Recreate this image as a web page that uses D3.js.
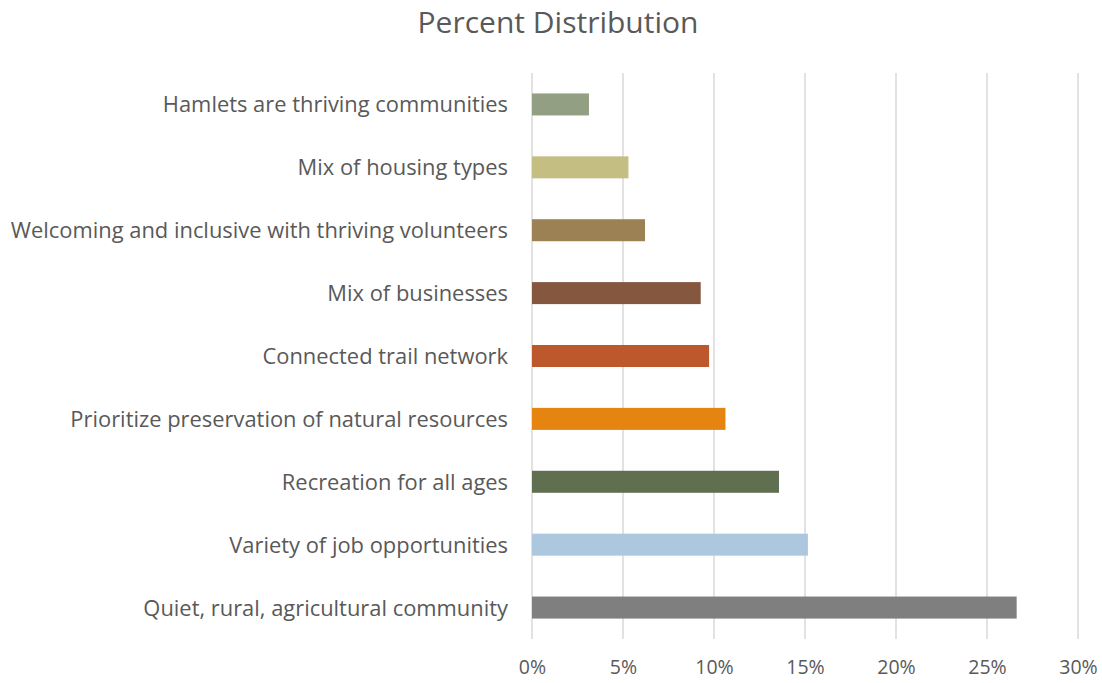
<!DOCTYPE html>
<html><head><meta charset="utf-8">
<script src="https://cdn.jsdelivr.net/npm/d3@7"></script>
<style>body{margin:0;background:#fff;} svg{display:block;}</style>
</head><body>
<svg id="c" width="1102" height="683"></svg>
<script>
const categories = [
  "Hamlets are thriving communities",
  "Mix of housing types",
  "Welcoming and inclusive with thriving volunteers",
  "Mix of businesses",
  "Connected trail network",
  "Prioritize preservation of natural resources",
  "Recreation for all ages",
  "Variety of job opportunities",
  "Quiet, rural, agricultural community"
];
const values = [3.13, 5.3, 6.21, 9.27, 9.73, 10.63, 13.57, 15.16, 26.63];
const colors = ["#939f83", "#c4be83", "#9c8155", "#86573f", "#bd582c", "#e68412", "#5f6f4f", "#adc8de", "#7f7f7f"];
const tickValues = [0, 5, 10, 15, 20, 25, 30];
const title = "Percent Distribution";

const svg = d3.select("#c");
const font = "'Open Sans', 'Noto Sans', sans-serif";
const textColor = "#595959";
const mLeft = 532, mRight = 1078, mTop = 73, mBottom = 639;

const x = d3.scaleLinear().domain([0, 30]).range([mLeft, mRight]);
const y = d3.scaleBand().domain(categories).range([mTop, mBottom]).paddingInner(0.65).paddingOuter(0.325);

// gridlines
svg.append("g").selectAll("line").data(tickValues).join("line")
  .attr("x1", d => x(d)).attr("x2", d => x(d))
  .attr("y1", mTop).attr("y2", mBottom)
  .attr("stroke", "#d9d9d9").attr("stroke-width", 1.5);

// bars
svg.append("g").selectAll("rect").data(categories).join("rect")
  .attr("x", x(0))
  .attr("y", d => y(d))
  .attr("height", y.bandwidth())
  .attr("width", (d, i) => x(values[i]) - x(0))
  .attr("fill", (d, i) => colors[i]);

// x axis labels
const xAxis = d3.axisBottom(x).tickValues(tickValues).tickFormat(d => d + "%").tickSize(0).tickPadding(0);
const gx = svg.append("g").attr("transform", `translate(0, ${mBottom + 21})`).call(xAxis);
gx.select(".domain").remove();
gx.selectAll("text").attr("font-family", font).attr("font-size", 19.5).attr("fill", textColor);

// y axis labels
const yAxis = d3.axisLeft(y).tickSize(0).tickPadding(24);
const gy = svg.append("g").attr("transform", `translate(${mLeft}, 1)`).call(yAxis);
gy.select(".domain").remove();
gy.selectAll("text").attr("font-family", font).attr("font-size", 21.9).attr("fill", textColor);

// title
svg.append("text").attr("x", 558).attr("y", 33).attr("text-anchor", "middle")
  .attr("font-family", font).attr("font-size", 30).attr("fill", textColor).text(title);
</script>
</body></html>
